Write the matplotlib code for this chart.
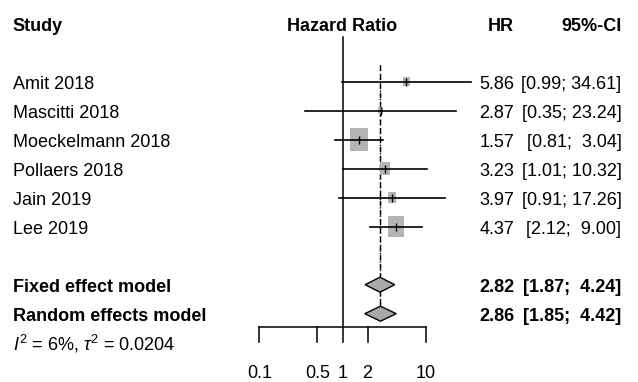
import numpy as np
import matplotlib
matplotlib.use("Agg")
import matplotlib.pyplot as plt
from matplotlib.patches import Rectangle, Polygon
from matplotlib.transforms import blended_transform_factory

# ---------------- data ----------------
studies = ["Amit 2018", "Mascitti 2018", "Moeckelmann 2018", "Pollaers 2018",
           "Jain 2019", "Lee 2019"]
hr    = [5.86, 2.87, 1.57, 3.23, 3.97, 4.37]
lower = [0.99, 0.35, 0.81, 1.01, 0.91, 2.12]
upper = [34.61, 23.24, 3.04, 10.32, 17.26, 9.00]

models   = ["Fixed effect model", "Random effects model"]
m_hr     = [2.82, 2.86]
m_lower  = [1.87, 1.85]
m_upper  = [4.24, 4.42]
het_text = r"$I^2$ = 6%, $\tau^2$ = 0.0204"
ticks    = [0.1, 0.5, 1, 2, 10]
tick_labels = ["0.1", "0.5", "1", "2", "10"]

# ---------------- style ----------------
plt.rcParams["font.family"] = ["Liberation Sans", "DejaVu Sans"]
plt.rcParams["mathtext.fontset"] = "custom"
plt.rcParams["mathtext.rm"] = "Liberation Sans"
plt.rcParams["mathtext.it"] = "Liberation Sans:italic"
FS = 13
GREY = "#b4b4b4"

W, H = 638, 382
X1, PPD = 342.5, 83.2          # pixel of HR=1, pixels per decade
ROW0, PPR = 81.7, 29.0         # pixel of row 1, pixels per row

fig = plt.figure(figsize=(W / 100, H / 100), dpi=100)
ax = fig.add_axes([0, 0, 1, 1])
ax.set_xscale("log")
ax.set_xlim(10 ** ((0 - X1) / PPD), 10 ** ((W - X1) / PPD))
ax.set_ylim(1 + (H - ROW0) / PPR, 1 + (0 - ROW0) / PPR)
ax.axis("off")

tr = blended_transform_factory(ax.transAxes, ax.transData)
BL = 0.26  # baseline offset (rows) so text is centred on the row

def txt(px, row, s, ha="left", bold=False):
    ax.text(px / W, row + BL, s, transform=tr, ha=ha, va="baseline",
            fontsize=FS, fontweight="bold" if bold else "normal")

rows = np.arange(1, len(studies) + 1)
mrows = [rows[-1] + 2, rows[-1] + 3]

# headers
txt(12.7, -1, "Study", bold=True)
ax.text(1.0, -1 + BL, "Hazard Ratio", ha="center", va="baseline",
        fontsize=FS, fontweight="bold")
txt(514, -1, "HR", ha="right", bold=True)
txt(622, -1, "95%-CI", ha="right", bold=True)

def ci_str(lo, up):
    b = f"{up:.2f}"
    pad = " " if len(b) < 5 else ""
    return f"[{lo:.2f}; {pad}{b}]"

# weights for box size (inverse variance from CI)
se = (np.log(upper) - np.log(lower)) / (2 * 1.96)
w = 1 / se ** 2
box_px = 6.1 * np.sqrt(w)

# reference lines
ax.plot([1, 1], [-0.54, 9.46], color="black", lw=1.1)
ax.plot([m_hr[0]] * 2, [0.43, 9.1], color="black", lw=1.0, ls=(0, (4, 2.5)))
ax.plot([m_hr[1]] * 2, [0.43, 9.1], color="black", lw=1.0, ls=(0, (1, 2)))

for r, name, est, lo, up, bp in zip(rows, studies, hr, lower, upper, box_px):
    hw = bp / 2 / PPD
    hh = bp * 1.3 / 2 / PPR
    ax.add_patch(Rectangle((est * 10 ** -hw, r - hh), est * 10 ** hw - est * 10 ** -hw,
                           2 * hh, facecolor=GREY, edgecolor="none", zorder=2))
    ax.plot([lo, up], [r, r], color="black", lw=1.2, zorder=3)
    ax.plot([est], [r], marker="|", ms=6, mew=1.0, color="black", zorder=4)
    txt(12.7, r, name)
    txt(514, r, f"{est:.2f}", ha="right")
    txt(621.5, r, ci_str(lo, up), ha="right")

for r, name, est, lo, up in zip(mrows, models, m_hr, m_lower, m_upper):
    dh = 7.5 / PPR
    ax.add_patch(Polygon([[lo, r], [est, r - dh], [up, r], [est, r + dh]],
                         closed=True, facecolor="#a9a9a9", edgecolor="black",
                         lw=1.0, zorder=3))
    txt(12.7, r, name, bold=True)
    txt(514, r, f"{est:.2f}", ha="right", bold=True)
    txt(621.5, r, ci_str(lo, up), ha="right", bold=True)

txt(12.7, mrows[-1] + 1, het_text)

# x axis
axis_row = 9.46
ax.plot([ticks[0], ticks[-1]], [axis_row, axis_row], color="black", lw=1.1)
for t, lab in zip(ticks, tick_labels):
    ax.plot([t, t], [axis_row, 9.98], color="black", lw=1.1)
    ax.text(t, 11.0 + 0.22, lab, ha="center", va="baseline", fontsize=FS)

fig.savefig("out.png", dpi=100)
